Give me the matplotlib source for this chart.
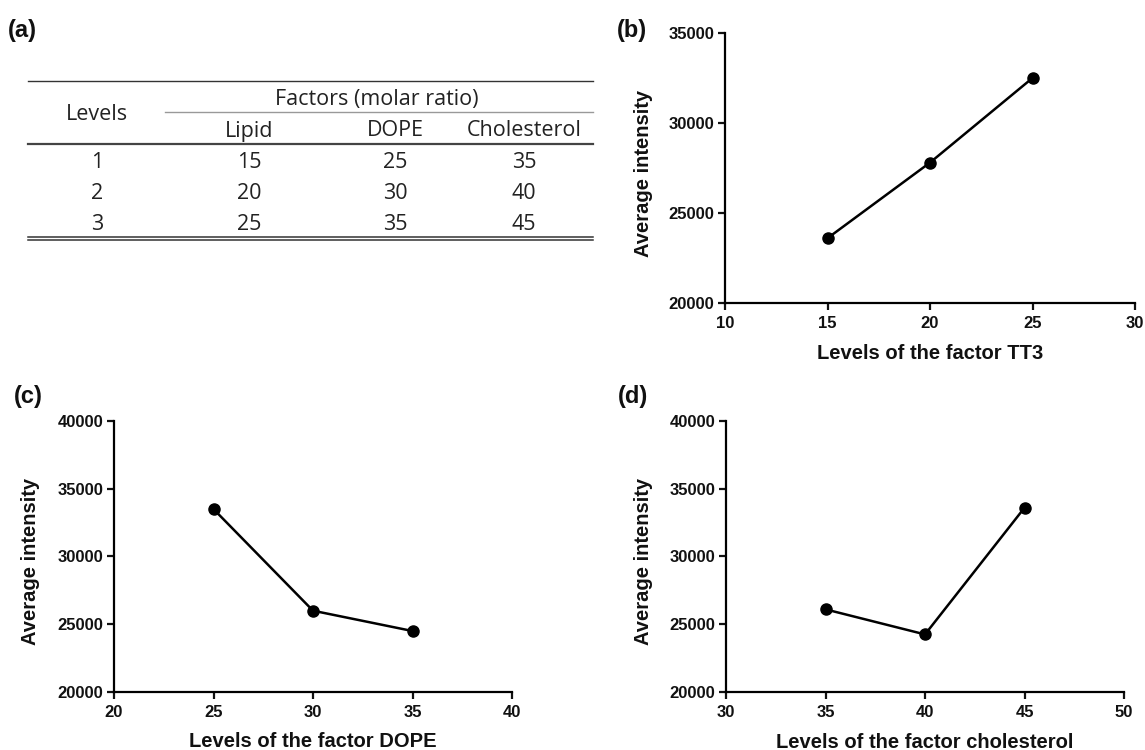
import matplotlib
matplotlib.use("Agg")
import matplotlib.pyplot as plt

# table (a)
levels = [1, 2, 3]
lipid = [15, 20, 25]
dope = [25, 30, 35]
cholesterol = [35, 40, 45]

# panel data
tt3_x = [15, 20, 25]
tt3_y = [23600, 27800, 32500]
dope_x = [25, 30, 35]
dope_y = [33500, 26000, 24500]
chol_x = [35, 40, 45]
chol_y = [26100, 24250, 33600]

W, H = 1145, 750
fig = plt.figure(figsize=(W / 100, H / 100), dpi=100)

# table drawn in pixel coordinates on an invisible full-figure axes
ax_t = fig.add_axes([0, 0, 1, 1])
ax_t.set_xlim(0, W)
ax_t.set_ylim(H, 0)
ax_t.axis("off")

tfont = dict(family="Open Sans", fontsize=15.5, color="#222222", ha="center", va="baseline")
ax_t.plot([28, 593], [80.7, 80.7], color="#333333", lw=1.0)
ax_t.plot([165, 593], [112, 112], color="#999999", lw=1.0)
ax_t.plot([28, 593], [144, 144], color="#444444", lw=1.6)
ax_t.plot([28, 593], [237.3, 237.3], color="#333333", lw=1.1)
ax_t.plot([28, 593], [240.2, 240.2], color="#333333", lw=1.1)

ax_t.text(97, 120.5, "Levels", **tfont)
ax_t.text(377, 105.5, "Factors (molar ratio)", **tfont)
col_x = [249, 395, 524]
for cx, name in zip(col_x, ["Lipid", "DOPE", "Cholesterol"]):
    ax_t.text(cx, 136.5, name, **tfont)
row_y = [168.3, 199.3, 230.5]
for i, ry in enumerate(row_y):
    ax_t.text(97, ry, str(levels[i]), **tfont)
    for cx, col in zip(col_x, [lipid, dope, cholesterol]):
        ax_t.text(cx, ry, str(col[i]), **tfont)


def line_panel(box, x, y, xlim, ylim, yticks, xlabel, xl_y, yl_x):
    left, right, top, bottom = box
    ax = fig.add_axes([left / W, 1 - bottom / H, (right - left) / W, (bottom - top) / H])
    ax.plot(x, y, color="black", lw=1.8, marker="o", markersize=8, clip_on=False)
    ax.set_xlim(*xlim)
    ax.set_ylim(*ylim)
    ax.set_xticks(range(xlim[0], xlim[1] + 1, 5))
    ax.set_yticks(yticks)
    for s in ["top", "right"]:
        ax.spines[s].set_visible(False)
    for s in ["left", "bottom"]:
        ax.spines[s].set_linewidth(1.6)
    ax.tick_params(width=1.6, length=5, labelsize=12, colors="#111111")
    ax.tick_params(axis="x", pad=4.5)
    ax.tick_params(axis="y", pad=2.5)
    for lab in ax.get_xticklabels() + ax.get_yticklabels():
        lab.set_fontweight("bold")
        lab.set_family("Liberation Sans")
    ax.set_xlabel(xlabel, fontsize=14.5, fontweight="bold", family="Liberation Sans", color="#111111")
    ax.set_ylabel("Average intensity", fontsize=14.5, fontweight="bold",
                  family="Liberation Sans", color="#111111")
    ax.xaxis.set_label_coords(0.5, xl_y)
    ax.yaxis.set_label_coords(yl_x, 0.48)
    return ax


line_panel((725, 1135, 33, 303), tt3_x, tt3_y, (10, 30), (20000, 35000),
           [20000, 25000, 30000, 35000], "Levels of the factor TT3", -0.152, -0.175)
line_panel((114, 512, 421, 692), dope_x, dope_y, (20, 40), (20000, 40000),
           [20000, 25000, 30000, 35000, 40000], "Levels of the factor DOPE", -0.148, -0.185)
line_panel((726, 1124, 421, 692), chol_x, chol_y, (30, 50), (20000, 40000),
           [20000, 25000, 30000, 35000, 40000], "Levels of the factor cholesterol",
           -0.151, -0.183)

lfont = dict(fontsize=17, fontweight="bold", family="Liberation Sans", ha="left",
             va="center", color="#111111")
fig.text(8 / W, 1 - 31 / H, "(a)", **lfont)
fig.text(617 / W, 1 - 31 / H, "(b)", **lfont)
fig.text(14 / W, 1 - 397 / H, "(c)", **lfont)
fig.text(618 / W, 1 - 397 / H, "(d)", **lfont)

fig.savefig("out.png", dpi=100)
